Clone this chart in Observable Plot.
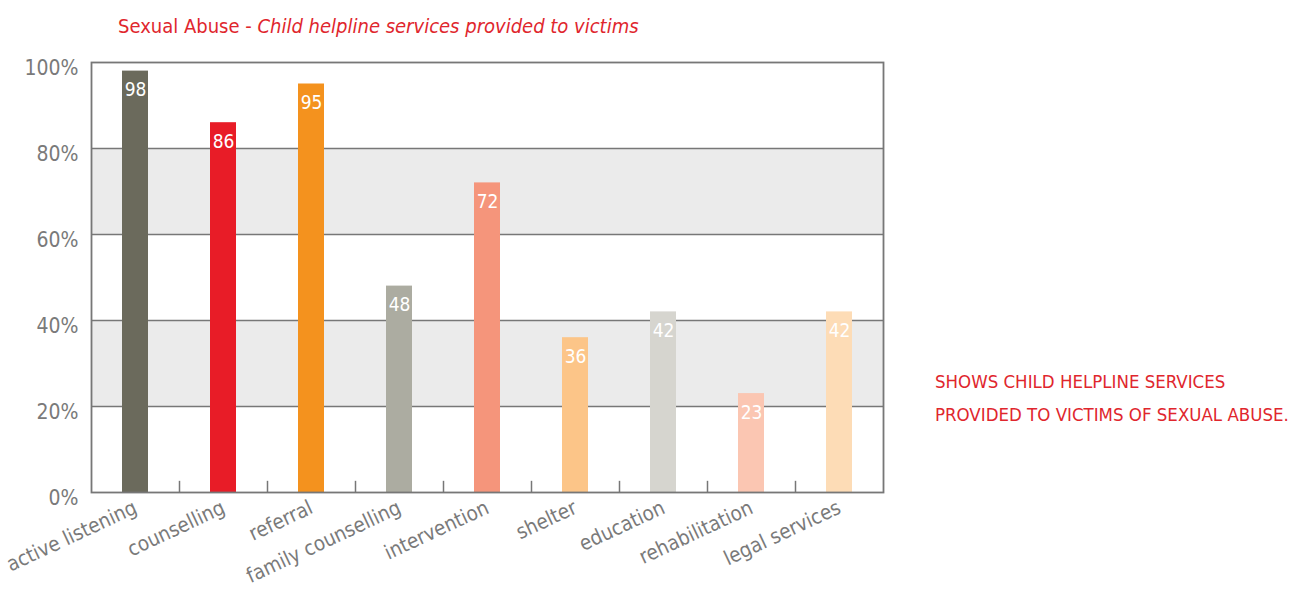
<!DOCTYPE html>
<html>
<head>
<meta charset="utf-8">
<script src="https://cdn.jsdelivr.net/npm/d3@7"></script>
<script src="https://cdn.jsdelivr.net/npm/@observablehq/plot@0.6"></script>
<style>
  html, body { margin: 0; padding: 0; background: #fff; }
  body { width: 1296px; height: 593px; position: relative; overflow: hidden;
         font-family: "Liberation Sans Narrow", "DejaVu Sans Condensed", "DejaVu Sans", sans-serif; }
  #title { position: absolute; left: 118px; top: 14px; font-size: 20px; color: #e0262d; white-space: nowrap; }
  #title i { font-style: italic; }
  #chart { position: absolute; left: 0; top: 0; }
  #note { position: absolute; left: 935px; top: 365px; font-size: 18.5px; line-height: 33px; color: #e0262d; white-space: nowrap; }
</style>
</head>
<body>
<div id="chart"></div>
<div id="title">Sexual Abuse - <i>Child helpline services provided to victims</i></div>
<div id="note">SHOWS CHILD HELPLINE SERVICES<br>PROVIDED TO VICTIMS OF SEXUAL ABUSE.</div>
<script>
const services = ["active listening", "counselling", "referral", "family counselling", "intervention", "shelter", "education", "rehabilitation", "legal services"];
const values = [98, 86, 95, 48, 72, 36, 42, 23, 42];
const barColors = ["#6b6a5c", "#e81c27", "#f4921e", "#acaca1", "#f5957b", "#fcc588", "#d6d5cf", "#fbc6b2", "#fddcb6"];
const yTicks = [0, 20, 40, 60, 80, 100];
const gridLines = [20, 40, 60, 80];
const shadeFrom = [20, 60];
const shadeTo = [40, 80];

const data = services.map((s, i) => ({service: s, value: values[i]}));
const shades = shadeFrom.map((f, i) => ({from: f, to: shadeTo[i]}));

const W = 900, ML = 91, MR = 17;
const step = (W - ML - MR) / services.length;
const font = '"Liberation Sans Narrow", "DejaVu Sans Condensed", "DejaVu Sans", sans-serif';

const chart = Plot.plot({
  width: W,
  height: 593,
  marginLeft: ML,
  marginRight: MR,
  marginTop: 62,
  marginBottom: 101,
  style: {fontFamily: font, fontSize: "20px", color: "#7a7a7a", background: "transparent"},
  x: {domain: services, paddingInner: 0.7, paddingOuter: 0.35, label: null, tickSize: 0},
  y: {domain: [0, 100], ticks: yTicks, tickFormat: d => d + "%", label: null, tickSize: 0},
  color: {domain: services, range: barColors},
  marks: [
    Plot.rect(shades, {y1: "from", y2: "to", fill: "#ebebeb"}),
    Plot.ruleY(gridLines, {stroke: "#777", strokeWidth: 1.5}),
    Plot.barY(data, {x: "service", y: "value", fill: "service"}),
    Plot.ruleX(services.slice(1), {x: d => d, y1: 0, y2: 2.6, dx: -step / 2, stroke: "#777", strokeWidth: 1.5}),
    Plot.text(data, {x: "service", y: "value", text: d => String(d.value), dy: 19, fill: "white", fontSize: 19}),
    Plot.frame({stroke: "#777", strokeWidth: 1.8}),
    Plot.axisY({ticks: yTicks, tickFormat: d => d + "%", tickSize: 0, tickPadding: 13, dy: 6, fontSize: 21, label: null}),
    Plot.axisX({tickSize: 0, tickRotate: -25, tickPadding: 14, fontSize: 20.5, label: null})
  ]
});
document.getElementById("chart").appendChild(chart);
</script>
</body>
</html>
